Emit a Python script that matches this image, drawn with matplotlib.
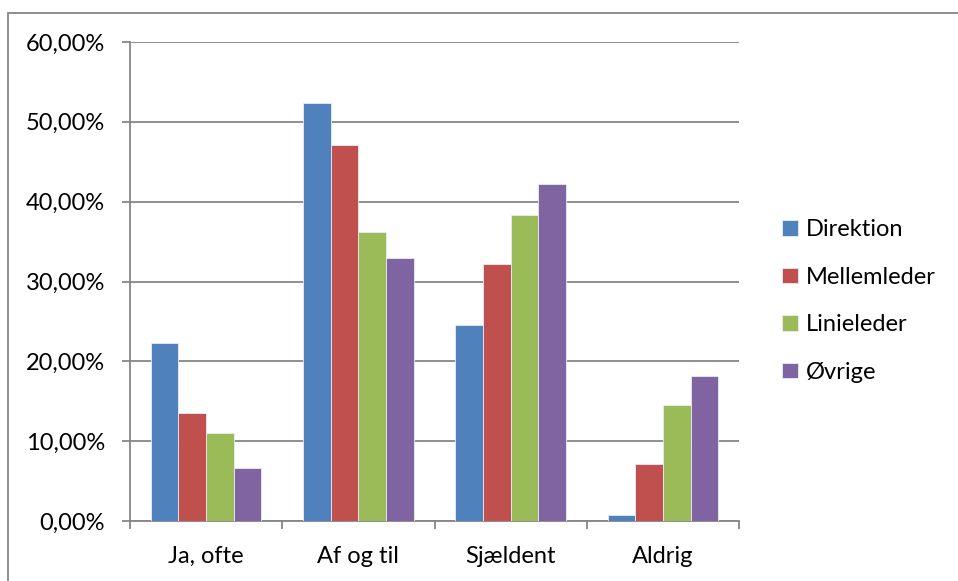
import matplotlib
matplotlib.use("Agg")
import matplotlib.pyplot as plt
import numpy as np
from matplotlib.patches import Rectangle
from matplotlib.ticker import FuncFormatter

categories = ["Ja, ofte", "Af og til", "Sjældent", "Aldrig"]
series_names = ["Direktion", "Mellemleder", "Linieleder", "Øvrige"]
direktion = [22.25, 52.3, 24.55, 0.75]
mellemleder = [13.5, 47.1, 32.2, 7.2]
linieleder = [11.05, 36.2, 38.3, 14.5]
ovrige = [6.6, 33.0, 42.2, 18.2]
colors = ["#4F81BD", "#C0504D", "#9BBB59", "#8064A2"]
yticks = [0, 10, 20, 30, 40, 50, 60]

plt.rcParams['font.family'] = ['Lato', 'DejaVu Sans']

W, H = 958, 581
fig = plt.figure(figsize=(W / 100, H / 100), dpi=100)
fig.patch.set_facecolor("white")

# outer chart border
fig.patches.append(Rectangle((8 / W, -0.1), 2, (H - 13) / H + 0.1,
                             transform=fig.transFigure, fill=False,
                             edgecolor="#868686", linewidth=1.3))

left, right, top, bottom = 130, 739, 42, 521
ax = fig.add_axes([left / W, (H - bottom) / H, (right - left) / W, (bottom - top) / H])

data = [direktion, mellemleder, linieleder, ovrige]
n = len(series_names)
gap = 1.5
bw = 1.0 / (n + gap)
x = np.arange(len(categories))
for i, (vals, name, c) in enumerate(zip(data, series_names, colors)):
    offs = (i - (n - 1) / 2) * bw
    ax.bar(x + offs, vals, width=bw, color=c, edgecolor="#E8ECF4",
           linewidth=0.6, label=name, zorder=3)

ax.set_xlim(-0.5, len(categories) - 0.5)
ax.set_ylim(0, 60)
ax.set_yticks(yticks)
ax.yaxis.set_major_formatter(FuncFormatter(lambda v, p: f"{v:.2f}%".replace(".", ",")))
ax.set_xticks(x)
ax.set_xticklabels(categories)
ax.set_xticks(np.arange(len(categories) + 1) - 0.5, minor=True)
ax.tick_params(axis="x", which="major", length=0, pad=18, labelsize=17)
ax.tick_params(axis="x", which="minor", length=6, width=1.3, color="#868686")
ax.tick_params(axis="y", length=6, width=1.3, color="#868686", pad=12, labelsize=17)
ax.grid(axis="y", color="#868686", linewidth=1.3, zorder=0)
ax.set_axisbelow(True)
for s in ["top", "right"]:
    ax.spines[s].set_visible(False)
for s in ["left", "bottom"]:
    ax.spines[s].set_color("#868686")
    ax.spines[s].set_linewidth(1.3)

leg = fig.legend(loc="upper left", bbox_to_anchor=(773 / W, (H - 210) / H),
                 frameon=False, fontsize=17, handlelength=0.65, handleheight=0.65,
                 handletextpad=0.34, labelspacing=1.12, borderaxespad=0)

fig.savefig("out.png", dpi=100, facecolor="white")
